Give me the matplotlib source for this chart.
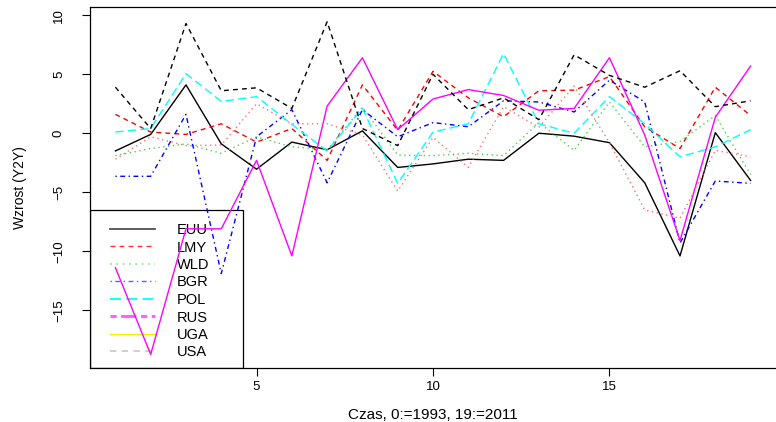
import matplotlib
matplotlib.use("Agg")
import matplotlib.pyplot as plt
from matplotlib.lines import Line2D
from matplotlib.patches import Rectangle

plt.rcParams['font.family'] = ['Liberation Sans', 'DejaVu Sans']

years = list(range(1, 20))
EUU = [-1.5, -0.1, 4.1, -0.9, -3.05, -0.75, -1.4, 0.2, -2.9, -2.6, -2.2, -2.3, 0.0, -0.25, -0.8, -4.2, -10.4, 0.05, -4.0]
LMY = [1.6, 0.1, -0.1, 0.8, -0.75, 0.4, -2.3, 4.1, 0.25, 5.25, 3.0, 1.4, 3.6, 3.65, 4.8, 0.55, -1.3, 3.9, 1.5]
WLD = [-1.9, -1.3, -0.9, -1.7, -0.3, -1.15, -1.4, 2.2, -1.85, -1.9, -1.7, -1.9, 0.9, -1.45, 2.65, -1.15, -0.7, 1.5, -3.5]
BGR = [-3.65, -3.65, 1.6, -11.9, -0.3, 2.0, -4.2, 2.0, -0.3, 0.9, 0.55, 2.75, 2.65, 1.8, 4.5, 2.65, -9.3, -4.05, -4.25]
POL = [0.1, 0.4, 5.05, 2.7, 3.1, 0.75, -1.5, 2.1, -4.25, 0.1, 0.8, 6.75, 0.8, 0.0, 3.1, 0.8, -2.0, -1.15, 0.3]
RUS = [-11.4, -18.75, -8.1, -8.1, -2.3, -10.4, 2.3, 6.4, 0.3, 2.9, 3.7, 3.2, 1.95, 2.1, 6.4, -0.15, -9.1, 1.35, 5.7]
UGA = [3.9, 0.4, 9.3, 3.6, 3.85, 2.1, 9.45, 0.4, -1.05, 5.0, 2.0, 3.0, 1.15, 6.65, 4.9, 3.9, 5.3, 2.25, 2.75]
USA = [-2.2, -0.3, -1.05, -1.0, 2.5, 0.8, 0.8, -0.15, -4.9, -0.35, -2.9, 2.25, 0.5, 4.0, -0.8, -6.5, -7.2, -1.45, -2.0]

names = ["EUU", "LMY", "WLD", "BGR", "POL", "RUS", "UGA", "USA"]
series = [EUU, LMY, WLD, BGR, POL, RUS, UGA, USA]

# plotted styles (R matplot default cycling)
plot_colors = ["black", "#ff0000", "#4fd04f", "#0000ff", "#00ffff", "#ff00ff", "black", "#ff7070"]
plot_styles = ["-", (0, (3.5, 3)), (0, (1, 2.5)), (0, (1, 2.5, 3.5, 2.5)), (0, (6, 3)), "-", (0, (3.5, 3)), (0, (1, 2.5))]

# legend styles as shown in the reference
leg_colors = ["#505050", "#ff3030", "#90e890", "#6060ff", "#00ffff", "#ff60ff", "#f2f200", "#cccccc"]
leg_styles = ["-", (0, (3.5, 3)), (0, (1, 2.5)), (0, (1, 2.5, 3.5, 2.5)), (0, (6, 3)), (0, (2, 1.5, 5, 1.5)), "-", (0, (3.5, 3))]
leg_widths = [1.3, 1.0, 1.3, 1.0, 1.3, 2.2, 1.0, 1.3]

W, H = 776, 422
fig = plt.figure(figsize=(W / 100, H / 100), dpi=100)
ax = fig.add_axes([90 / W, (H - 368) / H, 686 / W, 361 / H])

# legend frame (drawn beneath the data lines, no fill)
ax.add_patch(Rectangle((0, 0), 153 / 686, 158 / 361, transform=ax.transAxes,
                       fill=False, edgecolor='black', linewidth=0.9, zorder=1))
handles = [Line2D([], [], color=c, linestyle=ls, linewidth=lw)
           for c, ls, lw in zip(leg_colors, leg_styles, leg_widths)]
leg = ax.legend(handles, names, loc='upper left', frameon=False,
                bbox_to_anchor=((112 - 90 - 2) / 686, (368 - 223) / 361),
                borderaxespad=0, borderpad=0, fontsize=10.5,
                handlelength=3.1, handletextpad=1.5, labelspacing=0.24)
leg.set_zorder(1)

for s, c, ls in zip(series, plot_colors, plot_styles):
    ax.plot(years, s, color=c, linestyle=ls, linewidth=1.0, zorder=2)

ax.set_xlim(0.28, 19.72)
ax.set_ylim(-19.9, 10.7)
ax.set_xticks([5, 10, 15])
ax.set_yticks([-15, -10, -5, 0, 5, 10])
ax.tick_params(axis='both', direction='out', length=6, width=0.8, labelsize=9.5)
ax.tick_params(axis='y', pad=12)
ax.tick_params(axis='x', pad=3)
for lab in ax.get_yticklabels():
    lab.set_rotation(90)
    lab.set_va('center')
for sp in ax.spines.values():
    sp.set_linewidth(0.9)
ax.spines['right'].set_visible(False)

ax.set_xlabel("Czas, 0:=1993, 19:=2011", fontsize=11, labelpad=11)
ax.set_ylabel("Wzrost (Y2Y)", fontsize=10, labelpad=19)

fig.savefig("out.png", dpi=100)
